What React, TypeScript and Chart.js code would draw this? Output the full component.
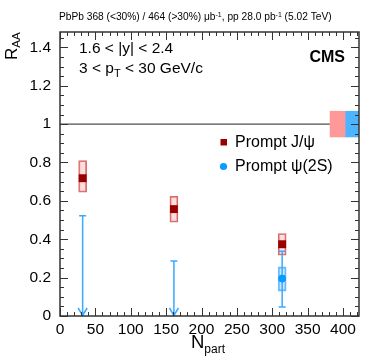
import React, { useEffect, useRef } from 'react';
import { Chart, registerables } from 'chart.js';

Chart.register(...registerables);

// ---------- data ----------
const X_MIN = 0;
const X_MAX = 422.6;
const Y_MIN = 0;
const Y_MAX = 1.48;
const X_MAJOR_STEP = 50;
const X_MINOR_STEP = 10;
const Y_MAJOR_STEP = 0.2;
const Y_MINOR_STEP = 0.05;

const JPSI_LABEL = 'Prompt J/ψ';
const JPSI_NPART = [32, 161, 314];
const JPSI_RAA = [0.718, 0.557, 0.374];
const JPSI_SYST_LO = [0.645, 0.489, 0.317];
const JPSI_SYST_HI = [0.81, 0.624, 0.43];

const PSI2S_LABEL = 'Prompt ψ(2S)';
const PSI2S_NPART = [314];
const PSI2S_RAA = [0.195];
const PSI2S_STAT_LO = [0.047];
const PSI2S_STAT_HI = [0.337];
const PSI2S_SYST_LO = [0.13];
const PSI2S_SYST_HI = [0.256];

const PSI2S_UL_NPART = [32, 161];
const PSI2S_UL = [0.522, 0.287];

const GLOBAL_NPART = [392.3, 412.6];
const GLOBAL_LO = [0.933, 0.933];
const GLOBAL_HI = [1.067, 1.067];

const REF_LINE_Y = 1;

// ---------- styles ----------
const FONT = '"Liberation Sans", Arial, Helvetica, sans-serif';
const JPSI_COLOR = '#990000';
const JPSI_BOX_FILL = 'rgba(255, 170, 170, 0.4)';
const JPSI_BOX_BORDER = 'rgba(205, 80, 80, 0.85)';
const JPSI_GLOBAL = '#ff9999';
const PSI_COLOR = '#0a9bff';
const PSI_LINE = '#3aaaff';
const PSI_BOX_FILL = 'rgba(60, 170, 255, 0.28)';
const PSI_BOX_BORDER = 'rgba(90, 180, 255, 0.9)';
const PSI_GLOBAL = '#4db5ff';

type Part = [string, '' | 'sup' | 'sub'];

function drawRich(
  ctx: CanvasRenderingContext2D,
  x: number,
  y: number,
  parts: Part[],
  size: number,
  smallSize: number,
  shift: number,
  align: 'left' | 'center' | 'right' = 'left',
  bold = false
) {
  const w = (p: Part) => {
    ctx.font = `${bold ? 'bold ' : ''}${p[1] ? smallSize : size}px ${FONT}`;
    return ctx.measureText(p[0]).width;
  };
  const total = parts.reduce((s, p) => s + w(p), 0);
  let cx = align === 'left' ? x : align === 'center' ? x - total / 2 : x - total;
  ctx.textAlign = 'left';
  ctx.textBaseline = 'alphabetic';
  for (const p of parts) {
    const width = w(p);
    const dy = p[1] === 'sup' ? -shift : p[1] === 'sub' ? shift : 0;
    ctx.fillText(p[0], cx, y + dy);
    cx += width;
  }
}

const decorPlugin = {
  id: 'decor',
  afterDatasetsDraw(chart: any) {
    const ctx: CanvasRenderingContext2D = chart.ctx;
    const xs = chart.scales.x;
    const ys = chart.scales.y;
    const { left, right, top, bottom } = chart.chartArea;
    ctx.save();

    // psi(2S) stat error bars
    ctx.strokeStyle = PSI_LINE;
    ctx.lineWidth = 1.5;
    PSI2S_NPART.forEach((n, i) => {
      const px = xs.getPixelForValue(n);
      const y1 = ys.getPixelForValue(PSI2S_STAT_LO[i]);
      const y2 = ys.getPixelForValue(PSI2S_STAT_HI[i]);
      ctx.beginPath();
      ctx.moveTo(px, y1);
      ctx.lineTo(px, y2);
      ctx.moveTo(px - 3.5, y1);
      ctx.lineTo(px + 3.5, y1);
      ctx.moveTo(px - 3.5, y2);
      ctx.lineTo(px + 3.5, y2);
      ctx.stroke();
      // redraw marker on top
      ctx.fillStyle = PSI_COLOR;
      ctx.beginPath();
      ctx.arc(px, ys.getPixelForValue(PSI2S_RAA[i]), 3.8, 0, Math.PI * 2);
      ctx.fill();
    });

    // psi(2S) upper limits (arrows)
    PSI2S_UL_NPART.forEach((n, i) => {
      const px = xs.getPixelForValue(n);
      const yTop = ys.getPixelForValue(PSI2S_UL[i]);
      const y0 = ys.getPixelForValue(0);
      ctx.beginPath();
      ctx.moveTo(px, yTop);
      ctx.lineTo(px, y0);
      ctx.moveTo(px - 3.5, yTop);
      ctx.lineTo(px + 3.5, yTop);
      ctx.moveTo(px - 4.5, y0 - 8);
      ctx.lineTo(px, y0 - 0.5);
      ctx.lineTo(px + 4.5, y0 - 8);
      ctx.stroke();
    });

    // frame
    ctx.strokeStyle = '#333';
    ctx.lineWidth = 1.5;
    ctx.strokeRect(left, top, right - left, bottom - top);

    // ticks
    ctx.lineWidth = 1;
    ctx.beginPath();
    for (let v = X_MIN; v <= X_MAX + 1e-6; v += X_MINOR_STEP) {
      const major = Math.abs(v / X_MAJOR_STEP - Math.round(v / X_MAJOR_STEP)) < 1e-6;
      const len = major ? 8 : 4;
      const px = Math.round(xs.getPixelForValue(v)) + 0.5;
      ctx.moveTo(px, bottom);
      ctx.lineTo(px, bottom - len);
      ctx.moveTo(px, top);
      ctx.lineTo(px, top + len);
    }
    for (let v = Y_MIN; v <= Y_MAX + 1e-6; v += Y_MINOR_STEP) {
      const major = Math.abs(v / Y_MAJOR_STEP - Math.round(v / Y_MAJOR_STEP)) < 1e-6;
      const len = major ? 8 : 4;
      const py = Math.round(ys.getPixelForValue(v)) + 0.5;
      ctx.moveTo(left, py);
      ctx.lineTo(left + len, py);
      ctx.moveTo(right, py);
      ctx.lineTo(right - len, py);
    }
    ctx.stroke();

    // legend
    ctx.fillStyle = JPSI_COLOR;
    ctx.fillRect(220.5, 139, 6.5, 6.5);
    ctx.fillStyle = PSI_COLOR;
    ctx.beginPath();
    ctx.arc(223.5, 166.5, 3.6, 0, Math.PI * 2);
    ctx.fill();
    ctx.fillStyle = '#000';
    ctx.font = `16px ${FONT}`;
    ctx.textAlign = 'left';
    ctx.textBaseline = 'middle';
    ctx.fillText(JPSI_LABEL, 235, 142.5);
    ctx.fillText(PSI2S_LABEL, 235, 167);

    // texts
    ctx.fillStyle = '#000';
    drawRich(ctx, 59, 20, [
      ['PbPb 368 (<30%) / 464 (>30%) μb', ''],
      ['-1', 'sup'],
      [', pp 28.0 pb', ''],
      ['-1', 'sup'],
      [' (5.02 TeV)', ''],
    ], 10.2, 7, 3.5);
    drawRich(ctx, 79, 53, [['1.6 < |y| < 2.4', '']], 15.5, 11, 4);
    drawRich(ctx, 79, 73, [
      ['3 < p', ''],
      ['T', 'sub'],
      [' < 30 GeV/c', ''],
    ], 15.5, 11, 4);
    drawRich(ctx, 345, 62, [['CMS', '']], 16, 11, 0, 'right', true);

    // x title
    drawRich(ctx, 191, 348, [['N', ''], ['part', 'sub']], 18.5, 12, 5);

    // y title
    ctx.save();
    ctx.translate(17, 60);
    ctx.rotate(-Math.PI / 2);
    drawRich(ctx, 0, 0, [['R', ''], ['AA', 'sub']], 17, 11.5, 3);
    ctx.restore();

    ctx.restore();
  },
};

export default function App() {
  const ref = useRef<HTMLCanvasElement | null>(null);

  useEffect(() => {
    if (!ref.current) return;
    const jpsiBoxes = JPSI_NPART.map((n, i) => ({ x: n, y: [JPSI_SYST_LO[i], JPSI_SYST_HI[i]] }));
    const psiBoxes = PSI2S_NPART.map((n, i) => ({ x: n, y: [PSI2S_SYST_LO[i], PSI2S_SYST_HI[i]] }));
    const chart = new Chart(ref.current, {
      type: 'scatter',
      data: {
        datasets: [
          {
            type: 'line',
            label: 'ref',
            data: [
              { x: X_MIN, y: REF_LINE_Y },
              { x: X_MAX, y: REF_LINE_Y },
            ],
            borderColor: '#222',
            borderWidth: 1,
            pointRadius: 0,
            order: 5,
          } as any,
          {
            type: 'bar',
            label: 'global J/psi',
            data: [{ x: GLOBAL_NPART[0], y: [GLOBAL_LO[0], GLOBAL_HI[0]] }],
            backgroundColor: JPSI_GLOBAL,
            borderWidth: 0,
            barThickness: 15,
            grouped: false,
            order: 4,
          } as any,
          {
            type: 'bar',
            label: 'global psi2S',
            data: [{ x: GLOBAL_NPART[1], y: [GLOBAL_LO[1], GLOBAL_HI[1]] }],
            backgroundColor: PSI_GLOBAL,
            borderWidth: 0,
            barThickness: 14,
            grouped: false,
            order: 4,
          } as any,
          {
            type: 'bar',
            label: 'jpsi syst',
            data: jpsiBoxes,
            backgroundColor: JPSI_BOX_FILL,
            borderColor: JPSI_BOX_BORDER,
            borderWidth: 1.2,
            borderSkipped: false,
            barThickness: 8,
            grouped: false,
            order: 3,
          } as any,
          {
            type: 'bar',
            label: 'psi syst',
            data: psiBoxes,
            backgroundColor: PSI_BOX_FILL,
            borderColor: PSI_BOX_BORDER,
            borderWidth: 1.2,
            borderSkipped: false,
            barThickness: 8,
            grouped: false,
            order: 3,
          } as any,
          {
            label: JPSI_LABEL,
            data: JPSI_NPART.map((n, i) => ({ x: n, y: JPSI_RAA[i] })),
            pointStyle: 'rect',
            pointRadius: 5.6,
            backgroundColor: JPSI_COLOR,
            borderColor: JPSI_COLOR,
            borderWidth: 0,
            order: 1,
          },
          {
            label: PSI2S_LABEL,
            data: PSI2S_NPART.map((n, i) => ({ x: n, y: PSI2S_RAA[i] })),
            pointStyle: 'circle',
            pointRadius: 3.8,
            backgroundColor: PSI_COLOR,
            borderColor: PSI_COLOR,
            borderWidth: 0,
            order: 1,
          },
        ],
      },
      options: {
        animation: false,
        responsive: false,
        devicePixelRatio: 1,
        layout: { padding: { left: 0, right: 15, top: 32, bottom: 0 } },
        plugins: {
          legend: { display: false },
          tooltip: { enabled: false },
        },
        scales: {
          x: {
            type: 'linear',
            min: X_MIN,
            max: X_MAX,
            offset: false,
            grid: { display: false, drawTicks: false },
            border: { display: false },
            ticks: {
              stepSize: X_MAJOR_STEP,
              includeBounds: false,
              autoSkip: false,
              maxRotation: 0,
              padding: 4,
              color: '#000',
              font: { family: FONT, size: 15.5 },
              callback: (v: any) => String(v),
            },
            afterFit: (scale: any) => {
              scale.height = 43;
            },
          },
          y: {
            type: 'linear',
            min: Y_MIN,
            max: Y_MAX,
            grid: { display: false, drawTicks: false },
            border: { display: false },
            ticks: {
              stepSize: Y_MAJOR_STEP,
              includeBounds: false,
              padding: 9,
              color: '#000',
              font: { family: FONT, size: 15.5 },
              callback: (v: any) => {
                const n = Math.round(Number(v) * 10) / 10;
                return Number.isInteger(n) ? String(n) : n.toFixed(1);
              },
            },
            afterFit: (scale: any) => {
              scale.width = 60;
            },
          },
        },
      } as any,
      plugins: [decorPlugin],
    });
    return () => chart.destroy();
  }, []);

  return (
    <div style={{ position: 'absolute', left: 0, top: 0, width: 374, height: 359, background: '#fff' }}>
      <canvas ref={ref} width={374} height={359} style={{ display: 'block' }} />
    </div>
  );
}
